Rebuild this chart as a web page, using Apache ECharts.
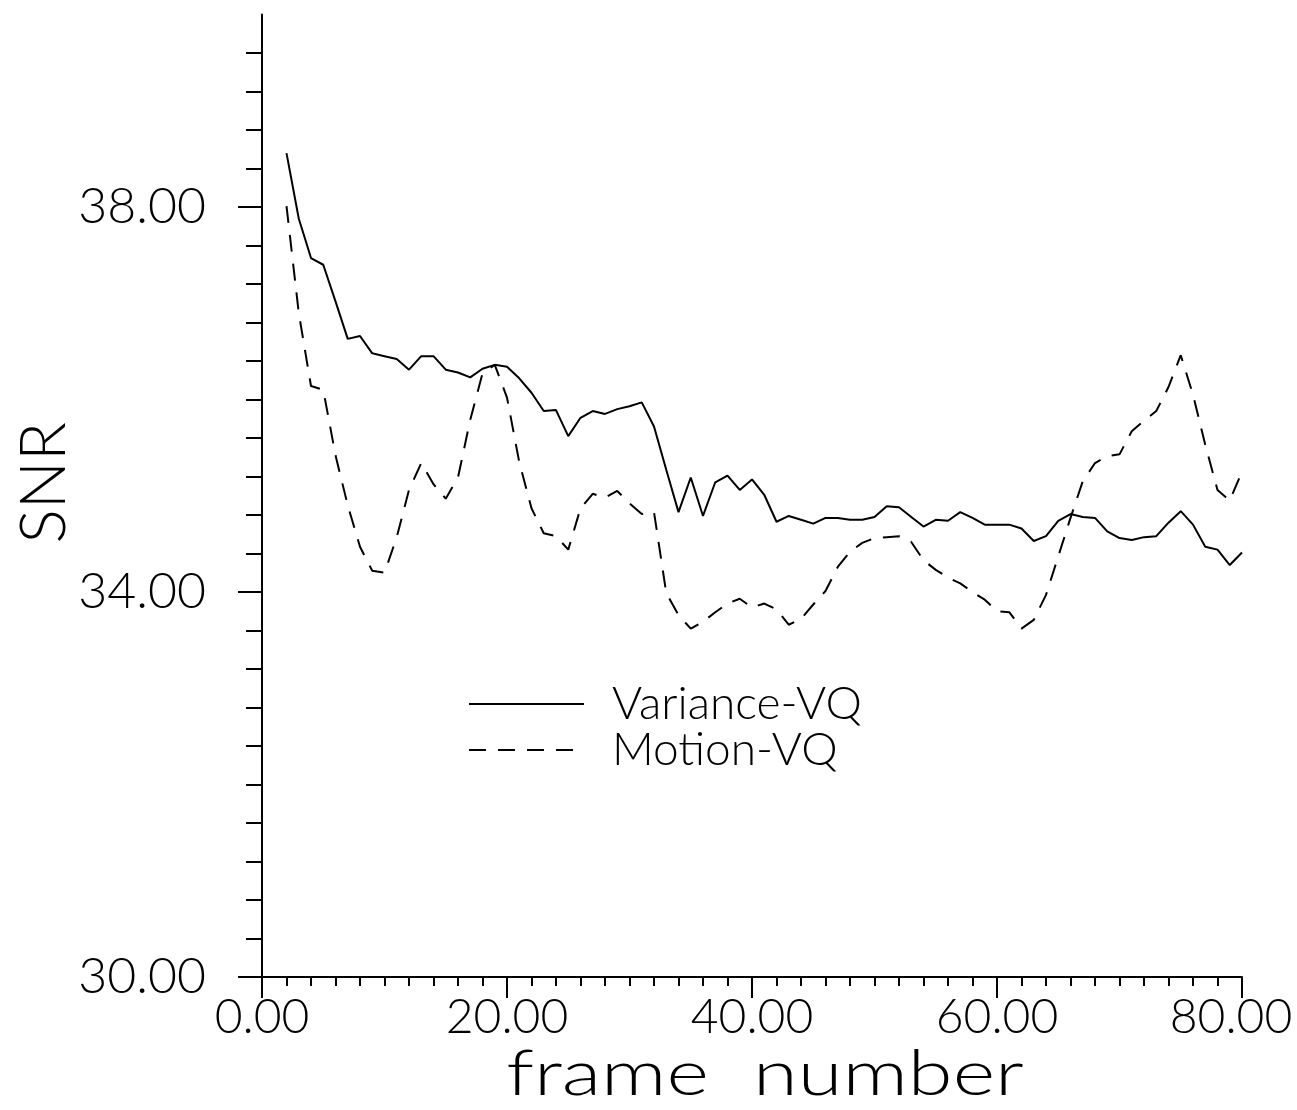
<!DOCTYPE html>
<html>
<head>
<meta charset="utf-8">
<script src="https://cdn.jsdelivr.net/npm/echarts@6/dist/echarts.min.js"></script>
<style>
  html, body { margin: 0; padding: 0; background: #ffffff; }
  #chart { width: 1297px; height: 1110px; }
</style>
</head>
<body>
<div id="chart"></div>
<script>
// Frame index for every sample
const frames = [
  2, 3, 4, 5, 6, 7, 8, 9, 10, 11, 12, 13, 14, 15, 16, 17, 18, 19, 20,
  21, 22, 23, 24, 25, 26, 27, 28, 29, 30, 31, 32, 33, 34, 35, 36, 37, 38, 39, 40,
  41, 42, 43, 44, 45, 46, 47, 48, 49, 50, 51, 52, 53, 54, 55, 56, 57, 58, 59, 60,
  61, 62, 63, 64, 65, 66, 67, 68, 69, 70, 71, 72, 73, 74, 75, 76, 77, 78, 79, 80
];

// SNR per frame, Variance-VQ coder
const varianceVQ = [
  38.56, 37.88, 37.47, 37.40, 37.02, 36.63, 36.66, 36.48, 36.45, 36.42, 36.31, 36.45, 36.45, 36.31, 36.28, 36.23, 36.32, 36.36, 36.34,
  36.22, 36.07, 35.88, 35.89, 35.62, 35.81, 35.88, 35.85, 35.90, 35.93, 35.97, 35.72, 35.27, 34.83, 35.19, 34.79, 35.14, 35.21, 35.06, 35.17,
  35.01, 34.73, 34.79, 34.75, 34.71, 34.77, 34.77, 34.75, 34.75, 34.78, 34.89, 34.88, 34.78, 34.68, 34.75, 34.74, 34.83, 34.77, 34.70, 34.70,
  34.70, 34.66, 34.53, 34.58, 34.74, 34.81, 34.78, 34.77, 34.63, 34.56, 34.54, 34.57, 34.58, 34.72, 34.84, 34.70, 34.47, 34.44, 34.28, 34.41
];

// SNR per frame, Motion-VQ coder
const motionVQ = [
  38.01, 36.90, 36.14, 36.10, 35.42, 34.90, 34.47, 34.22, 34.20, 34.57, 35.06, 35.34, 35.12, 34.97, 35.19, 35.79, 36.27, 36.36, 36.02,
  35.35, 34.87, 34.61, 34.58, 34.44, 34.87, 35.02, 34.98, 35.05, 34.92, 34.81, 34.83, 33.99, 33.76, 33.62, 33.69, 33.79, 33.88, 33.93, 33.84,
  33.88, 33.82, 33.66, 33.72, 33.87, 34.01, 34.26, 34.42, 34.51, 34.56, 34.57, 34.58, 34.52, 34.33, 34.23, 34.15, 34.09, 34.00, 33.92, 33.80,
  33.79, 33.62, 33.71, 33.97, 34.37, 34.77, 35.15, 35.34, 35.41, 35.43, 35.67, 35.78, 35.88, 36.13, 36.46, 36.05, 35.53, 35.06, 34.95, 35.25
];

// Axis ticks
const xMajorTicks = [0, 20, 40, 60, 80];
const yMajorTicks = [30, 34, 38];
const yMinorTicks = [
  30.4, 30.8, 31.2, 31.6, 32.0, 32.4, 32.8, 33.2, 33.6,
  34.4, 34.8, 35.2, 35.6, 36.0, 36.4, 36.8, 37.2, 37.6,
  38.4, 38.8, 39.2, 39.6
];

const seriesNames = ['Variance-VQ', 'Motion-VQ'];
const xTitle = 'frame  number';
const yTitle = 'SNR';

const FONT = 'Lato';
const INK = '#000000';

function pairs(values) {
  return frames.map((f, i) => [f, values[i]]);
}

const chart = echarts.init(document.getElementById('chart'), null, { renderer: 'canvas' });

const axisStroke = { color: INK, width: 2 };
const labelFont = { fontFamily: FONT, fontWeight: 300, fontSize: 48, color: INK };

chart.setOption({
  backgroundColor: '#ffffff',
  animation: false,
  grid: {
    left: 262, right: 55, top: 14.5, bottom: 133,
    containLabel: false,
    outerBoundsMode: 'none'
  },
  legend: {
    orient: 'vertical',
    left: 468,
    top: 681,
    padding: 0,
    itemGap: 0,
    itemWidth: 115,
    itemHeight: 14,
    data: seriesNames,
    itemStyle: { color: 'rgba(0,0,0,0)', borderWidth: 0, opacity: 0 },
    textStyle: {
      fontFamily: FONT,
      fontWeight: 300,
      fontSize: 46,
      lineHeight: 46,
      color: INK,
      padding: [0, 0, 0, 23]
    }
  },
  // the x-axis title is set a little wider than the font's natural width
  graphic: [
    {
      type: 'text',
      x: 765,
      y: 1042,
      scaleX: 1.27,
      silent: true,
      style: {
        text: xTitle,
        x: 0,
        y: 0,
        align: 'center',
        verticalAlign: 'top',
        fontFamily: FONT,
        fontWeight: 300,
        fontSize: 64,
        fill: INK
      }
    }
  ],
  xAxis: [
    {
      type: 'value',
      min: 0,
      max: 80,
      interval: 2,
      axisLine: { show: true, lineStyle: axisStroke },
      axisTick: { show: true, length: 9, lineStyle: axisStroke },
      axisLabel: { show: false },
      splitLine: { show: false }
    },
    {
      type: 'value',
      min: 0,
      max: 80,
      interval: 20,
      position: 'bottom',
      axisLine: { show: false },
      axisTick: { show: true, length: 21, lineStyle: axisStroke, customValues: xMajorTicks },
      axisLabel: Object.assign({
        show: true,
        customValues: xMajorTicks,
        // the last label is nudged left so it stays on the page
        formatter: v => (v === 80 ? '{edge|' + v.toFixed(2) + '}' : v.toFixed(2)),
        margin: 17,
        rich: {
          edge: Object.assign({ padding: [0, 22, 0, 0] }, labelFont)
        }
      }, labelFont),
      splitLine: { show: false }
    }
  ],
  yAxis: [
    {
      type: 'value',
      min: 30,
      max: 40,
      position: 'left',
      axisLine: { show: true, lineStyle: axisStroke },
      axisTick: { show: true, length: 16, lineStyle: axisStroke, customValues: yMinorTicks },
      axisLabel: { show: false },
      splitLine: { show: false }
    },
    {
      type: 'value',
      min: 30,
      max: 40,
      position: 'left',
      axisLine: { show: false },
      axisTick: { show: true, length: 24, lineStyle: axisStroke, customValues: yMajorTicks },
      axisLabel: {
        show: true,
        customValues: yMajorTicks,
        formatter: v => v.toFixed(2),
        margin: 56,
        fontFamily: FONT,
        fontWeight: 300,
        fontSize: 50,
        color: INK
      },
      splitLine: { show: false },
      name: yTitle,
      nameLocation: 'middle',
      nameRotate: 90,
      nameGap: 186,
      nameMoveOverlap: false,
      nameTextStyle: {
        fontFamily: FONT,
        fontWeight: 300,
        fontSize: 64,
        color: INK,
        padding: [0, 0, 0, 26]
      }
    }
  ],
  series: [
    {
      name: seriesNames[0],
      type: 'line',
      xAxisIndex: 0,
      yAxisIndex: 0,
      data: pairs(varianceVQ),
      symbol: 'none',
      lineStyle: { color: INK, width: 2, type: 'solid' },
      itemStyle: { color: INK }
    },
    {
      name: seriesNames[1],
      type: 'line',
      xAxisIndex: 0,
      yAxisIndex: 0,
      data: pairs(motionVQ),
      symbol: 'none',
      lineStyle: { color: INK, width: 2, type: [17, 12] },
      itemStyle: { color: INK }
    }
  ]
});
</script>
</body>
</html>
